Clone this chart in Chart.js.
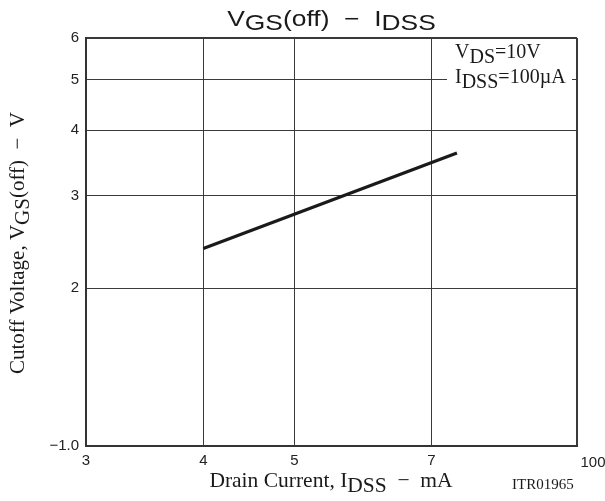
<!DOCTYPE html>
<html lang="en">
<head>
    <meta charset="UTF-8">
    <title>VGS(off) - IDSS</title>
    <script src="https://cdn.jsdelivr.net/npm/chart.js@4.4.1/dist/chart.umd.min.js"></script>
    <style>
        html, body { margin: 0; padding: 0; background: #fff; }
        #wrap { width: 605px; height: 501px; }
    </style>
</head>
<body>
    <div id="wrap"><canvas id="chart" width="605" height="501"></canvas></div>

    <script>
        // (log-log, straight line)
        const currentMA = [4, 7.45];
        const cutoffV = [2.38, 3.62];

        const xTicks = [3, 4, 5, 7, 10];
        const xTickLabels = ['3', '4', '5', '7', '100'];
        const yTicks = [1, 2, 3, 4, 5, 6];
        const yTickLabels = ['\u22121.0', '2', '3', '4', '5', '6'];

        const serif = '"Liberation Serif", "Times New Roman", serif';
        const sans = '"Liberation Sans", Arial, sans-serif';
        const ink = '#1a1a1a';

        // draw text pieces in a row, subscripts dropped a little
        function drawRich(ctx, parts, x, y, size, family, drop, align) {
            ctx.font = size + 'px ' + family;
            let w = 0;
            parts.forEach(p => { w += ctx.measureText(p[0]).width; });
            let cx = align === 'center' ? x - w / 2 : x;
            ctx.textAlign = 'left';
            ctx.textBaseline = 'alphabetic';
            parts.forEach(p => {
                ctx.fillText(p[0], cx, y + (p[1] ? drop : 0));
                cx += ctx.measureText(p[0]).width;
            });
        }

        const textPlugin = {
            id: 'texts',
            afterDraw(chart) {
                const ctx = chart.ctx;
                const area = chart.chartArea;
                const xs = chart.scales.x;
                ctx.save();
                ctx.fillStyle = ink;

                // title
                ctx.save();
                const midX = (area.left + area.right) / 2;
                ctx.translate(midX, 26);
                ctx.scale(1.2, 1);
                drawRich(ctx, [['V'], ['GS', 1], ['(off)'], ['  \u2212  '], ['I'], ['DSS', 1]], 0, 0, 22, sans, 4, 'center');
                ctx.restore();

                // conditions box
                ctx.fillStyle = '#fff';
                ctx.fillRect(447, 40, 125, 54);
                ctx.fillStyle = ink;
                drawRich(ctx, [['V'], ['DS', 1], ['=10V']], 455, 58, 20, serif, 5, 'left');
                drawRich(ctx, [['I'], ['DSS', 1], ['=100\u00b5A']], 455, 83, 20, serif, 5, 'left');

                // axis titles
                drawRich(ctx, [['Drain Current, I'], ['DSS', 1], ['  \u2212  mA']], 331, 487, 21.5, serif, 5, 'center');
                ctx.font = '15px ' + serif;
                ctx.fillText('ITR01965', 512, 489);

                ctx.save();
                ctx.translate(24, 243);
                ctx.rotate(-Math.PI / 2);
                drawRich(ctx, [['Cutoff Voltage, V'], ['GS', 1], ['(off)  \u2212  V']], 0, 0, 21, serif, 5, 'center');
                ctx.restore();

                // last x label sits right of the frame corner
                ctx.font = '15px ' + sans;
                ctx.textAlign = 'center';
                ctx.textBaseline = 'top';
                ctx.fillStyle = '#222';
                ctx.fillText(xTickLabels[xTickLabels.length - 1], xs.getPixelForValue(10) + 16, 455);
                ctx.restore();
            }
        };

        const edgeWidth = (ticks) => (c) => {
            const v = c.tick ? c.tick.value : null;
            return (v === ticks[0] || v === ticks[ticks.length - 1]) ? 2 : 1;
        };

        new Chart(document.getElementById('chart'), {
            type: 'line',
            data: {
                datasets: [{
                    data: currentMA.map((x, i) => ({ x: x, y: cutoffV[i] })),
                    borderColor: ink,
                    borderWidth: 3.2,
                    pointRadius: 0,
                    fill: false,
                    tension: 0
                }]
            },
            options: {
                responsive: false,
                animation: false,
                devicePixelRatio: 1,
                layout: { padding: { top: 38, right: 28, left: 0, bottom: 0 } },
                plugins: {
                    legend: { display: false },
                    tooltip: { enabled: false },
                    title: { display: false }
                },
                scales: {
                    x: {
                        type: 'logarithmic',
                        min: 3,
                        max: 10,
                        afterBuildTicks: s => { s.ticks = xTicks.map(v => ({ value: v })); },
                        afterFit: s => { s.height = 55; },
                        grid: { color: '#3a3a3a', lineWidth: edgeWidth(xTicks), drawTicks: false },
                        border: { display: true, color: '#333', width: 2 },
                        ticks: {
                            autoSkip: false,
                            maxRotation: 0,
                            padding: 6,
                            color: '#222',
                            font: { family: sans, size: 15 },
                            callback: v => {
                                const i = xTicks.indexOf(v);
                                return i === xTicks.length - 1 ? '' : xTickLabels[i];
                            }
                        }
                    },
                    y: {
                        type: 'logarithmic',
                        min: 1,
                        max: 6,
                        afterBuildTicks: s => { s.ticks = yTicks.map(v => ({ value: v })); },
                        afterFit: s => { s.width = 86; },
                        grid: { color: '#3a3a3a', lineWidth: edgeWidth(yTicks), drawTicks: false },
                        border: { display: true, color: '#333', width: 2 },
                        ticks: {
                            autoSkip: false,
                            padding: 7,
                            color: '#222',
                            font: { family: sans, size: 15 },
                            callback: v => yTickLabels[yTicks.indexOf(v)]
                        }
                    }
                }
            },
            plugins: [textPlugin]
        });
    </script>
</body>
</html>
